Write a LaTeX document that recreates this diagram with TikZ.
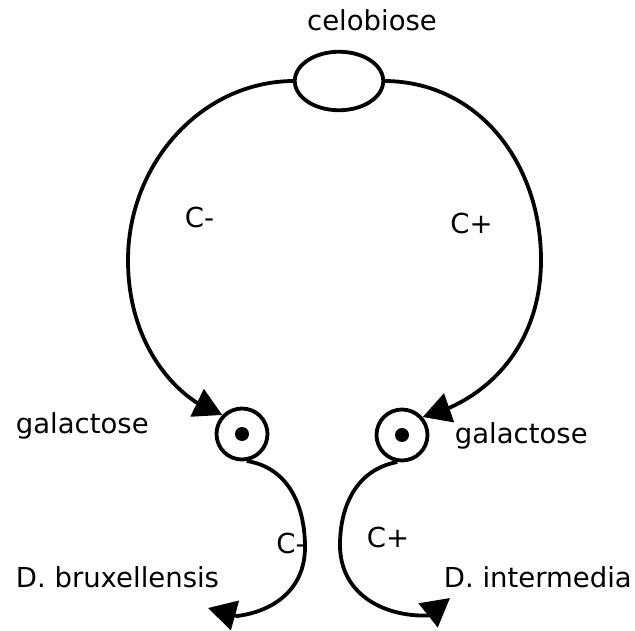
\documentclass[tikz,border=0pt]{standalone}
\usepackage{fontspec}
\setmainfont{DejaVu Sans}
\usetikzlibrary{arrows.meta,shapes.geometric}
\begin{document}
\begin{tikzpicture}[x=1pt,y=-1pt,line width=3.8pt,
  lbl/.style={inner sep=0pt,font=\fontsize{27.5}{33}\selectfont},
  conn/.style={draw,-{Triangle[length=28pt,width=30pt]}},
  ring/.style={circle,draw,minimum size=51pt,inner sep=0pt},
  dotnode/.style={circle,fill,draw=none,minimum size=14pt,inner sep=0pt},
  blob/.style={ellipse,draw,minimum width=88.5pt,minimum height=58.5pt,inner sep=0pt}]
\useasboundingbox (0,0) rectangle (635,631);
% nodes
\node[blob] (cel) at (339,81) {};
\node[ring] (lc) at (242,434) {};
\node[dotnode] (ld) at (lc.center) {};
\node[ring] (rc) at (402,435) {};
\node[dotnode] (rd) at (rc.center) {};
% helper coordinates
\coordinate (lmid) at (128,260);
\coordinate (rmid) at (541,260);
\coordinate (lback) at (196.5,402.5);
\coordinate (rback) at (450,407.5);
\coordinate (lbul) at (305,547);
\coordinate (rbul) at (340,545);
\coordinate (lback2) at (237,616);
\coordinate (rback2) at (428,615.5);
\coordinate (lend) at (208,608);
\coordinate (rend) at (450,598);
% connectors
\draw[conn] (cel.west) .. controls (200,82) and (128,165) .. (lmid)
  .. controls (128,335) and (165,382) .. (lback) -- (lc.136);
\draw[conn] (cel.east) .. controls (480,82) and (541,165) .. (rmid)
  .. controls (541,335) and (500,385) .. (rback) -- (rc.41);
\draw[conn] (lc.-80) .. controls (290,468) and (305,508) .. (lbul)
  .. controls (305,592) and (270,612) .. (lback2) -- (lend);
\draw[conn] (rc.-100) .. controls (355,470) and (340,508) .. (rbul)
  .. controls (340,595) and (385,617) .. (rback2) -- (rend);
% labels
\node[lbl,anchor=base] (celt) at (372,31) {celobiose};
\node[lbl] (cm1) at (199.5,217) {C-};
\node[lbl] (cp1) at (471.5,223.5) {C+};
\node[lbl,anchor=base west] (gl) at (14,433) {galactose};
\node[lbl,anchor=base west] (gr) at (453,443) {galactose};
\node[lbl] (cm2) at (291,543) {C-};
\node[lbl] (cp2) at (388,537) {C+};
\node[lbl,anchor=base west] (db) at (14,587) {D. bruxellensis};
\node[lbl,anchor=base west] (di) at (442,587) {D. intermedia};
\end{tikzpicture}
\end{document}
